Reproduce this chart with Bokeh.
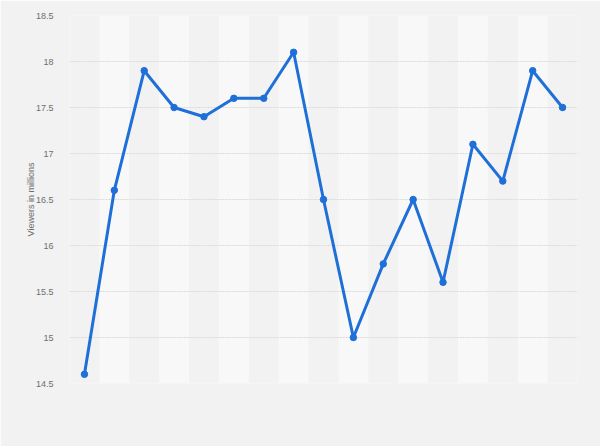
from bokeh.plotting import figure
from bokeh.models import Range1d, FixedTicker, ColumnDataSource
from bokeh.embed import file_html
from bokeh.resources import INLINE

episodes = list(range(17))
viewers = [14.6, 16.6, 17.9, 17.5, 17.4, 17.6, 17.6, 18.1, 16.5, 15.0,
           15.8, 16.5, 15.6, 17.1, 16.7, 17.9, 17.5]
y_ticks = [14.5, 15, 15.5, 16, 16.5, 17, 17.5, 18, 18.5]
y_label = "Viewers in millions"

BG = "#f2f2f2"
p = figure(width=600, height=446, output_backend="svg", toolbar_location=None,
           x_range=Range1d(-0.5, 16.5), y_range=Range1d(14.5, 18.5),
           min_border_left=69, min_border_right=23, min_border_top=15,
           min_border_bottom=63)
p.background_fill_color = BG
p.border_fill_color = BG
p.outline_line_color = None

band_x = [e for e in episodes if e % 2 == 1]
p.vbar(x=band_x, width=1, bottom=14.5, top=18.5, fill_color="#f8f8f8",
       line_color=None, level="underlay")

p.xaxis.visible = False
p.xgrid.visible = False
p.ygrid.grid_line_color = "#dadada"
p.ygrid.grid_line_dash = "2 1"
p.ygrid.grid_line_width = 1
p.ygrid.level = "underlay"

ax = p.yaxis[0]
ax.ticker = FixedTicker(ticks=y_ticks)
ax.major_label_overrides = {14.5: "14.5", 15: "15", 15.5: "15.5", 16: "16", 16.5: "16.5",
                            17: "17", 17.5: "17.5", 18: "18", 18.5: "18.5"}
ax.axis_line_color = None
ax.major_tick_line_color = None
ax.minor_tick_line_color = None
ax.major_label_standoff = 10
ax.major_label_text_font = "Liberation Sans"
ax.major_label_text_font_size = "9px"
ax.major_label_text_color = "#6e6e6e"
ax.axis_label = y_label
ax.axis_label_text_font = "Liberation Sans"
ax.axis_label_text_font_size = "9px"
ax.axis_label_text_font_style = "normal"
ax.axis_label_text_color = "#6e6e6e"
ax.axis_label_standoff = -3

src = ColumnDataSource(dict(x=episodes, y=viewers))
p.line("x", "y", source=src, line_color="#1f6fd8", line_width=3)
p.scatter("x", "y", source=src, size=6.5, fill_color="#1f6fd8", line_color="#1f6fd8")

open("out.html", "w").write(file_html(p, INLINE))
